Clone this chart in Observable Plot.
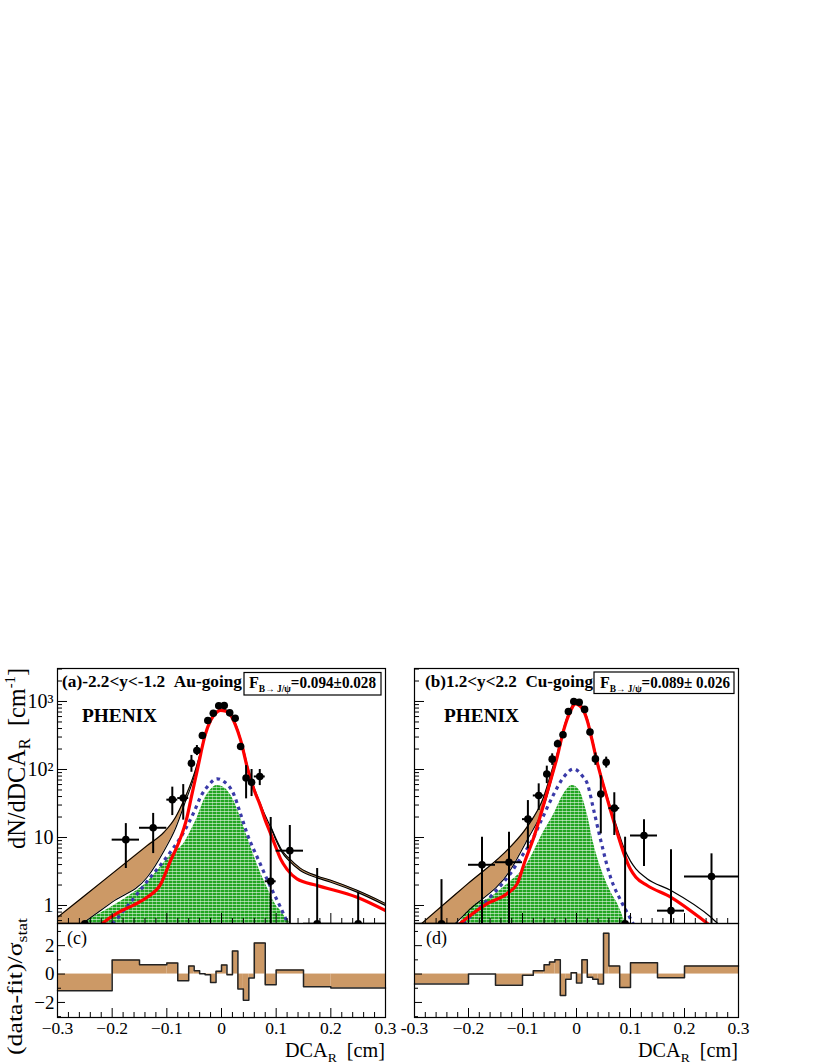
<!DOCTYPE html>
<html><head><meta charset="utf-8">
<script src="https://cdn.jsdelivr.net/npm/d3@7"></script>
<script src="https://cdn.jsdelivr.net/npm/@observablehq/plot@0.6"></script>
<style>
body{margin:0;background:#fff;}
#root{position:relative;width:822px;height:1064px;overflow:hidden;background:#fff;}
.pn{position:absolute;}
</style></head><body><div id="root"></div>
<script>
// ---------------- data ----------------
const binEdges = [-0.3,-0.2,-0.15,-0.1,-0.08,-0.06,-0.05,-0.04,-0.03,-0.02,-0.01,0,0.01,0.02,0.03,0.04,0.05,0.06,0.08,0.1,0.15,0.2,0.3];

// panel (a) data points
const yA    = [0.54, 9.3, 13.9, 36, 38, 123, 190, 316, 525, 673, 866, 870, 680, 565, 218, 75, 65, 79, 2.27, 6.4, 0.54, 0.54];
const yA_lo = [0.54, 3.5, 5.8, 21, 18, 91, 160, 290, 495, 640, 830, 835, 645, 535, 195, 37, 40, 58, 0.3, 0.3, 0.3, 0.3];
const yA_hi = [0.54, 16, 22.6, 55, 60, 161, 225, 345, 560, 705, 900, 905, 715, 600, 240, 114, 100, 100, 19.7, 15, 3.5, 1.57];
// panel (b) data points
const yB    = [0.54, 3.97, 4.33, 18.6, 41.5, 86, 142, 239, 324, 713, 1000, 975, 765, 355, 143, 43.7, 128, 27, 0.54, 10.7, 0.84, 2.67];
const yB_lo = [0.3, 0.3, 0.3, 6.8, 25, 62, 115, 210, 295, 680, 960, 940, 730, 325, 115, 11.3, 105, 10.7, 0.3, 3.74, 0.3, 0.3];
const yB_hi = [2.4, 10.1, 11.9, 34.9, 61.5, 112, 170, 270, 355, 745, 1040, 1010, 800, 385, 175, 81, 152, 45.5, 10.1, 18.2, 6.6, 5.75];

// residuals (data-fit)/sigma per bin
const residA = [-1.18, 0.99, 0.66, 0.78, -0.47, 0.56, 0.24, 0.02, -0.05, -0.59, 0.19, 0.64, -0.05, 1.62, -1.06, -1.84, -0.28, 2.19, -0.75, 0.28, -0.89, -0.99];
const residB = [-0.70, 0.0, -0.79, -0.09, 0.23, 0.65, 0.84, 1.0, -1.51, -0.37, 0.09, -0.63, 1.0, -0.23, -0.37, -0.70, 2.88, 0.56, -0.95, 0.79, -0.26, 0.56];

// panel (a) curves
const greenA_x = [-0.255,-0.22,-0.19,-0.16,-0.136,-0.115,-0.1,-0.085,-0.069,-0.055,-0.044,-0.03,-0.02,-0.008,0.005,0.02,0.03,0.041,0.055,0.065,0.075,0.085,0.1,0.108,0.12,0.127];
const greenA_y = [0.54,0.78,1.08,1.55,2.2,3.4,4.8,6.2,8.1,13,19.9,38,50,58,54,38,25,14,6.8,4.1,2.6,1.75,1.0,0.84,0.62,0.54];
const blueA_x = [-0.2,-0.194,-0.179,-0.154,-0.13,-0.105,-0.087,-0.069,-0.05,-0.038,-0.025,-0.008,0.005,0.022,0.035,0.047,0.068,0.09,0.108,0.121];
const blueA_y = [0.54,0.6,0.84,1.49,2.6,4.6,7.2,12,24,40,57,73,66,44,22,11.3,4.6,1.86,0.94,0.55];
const bandA_x  = [-0.3,-0.255,-0.2,-0.136,-0.105,-0.084,-0.069,-0.05,-0.04];
const bandA_lo = [0.3,0.54,1.12,2.6,6.4,13.7,29,78,150];
const bandA_hi = [0.67,1.30,2.94,7.6,12,19.9,35,86,160];
const bandA2_x  = [0.09,0.1,0.11,0.123,0.144,0.175,0.2,0.248,0.3];
const bandA2_lo = [14.1,9.0,6.2,4.6,3.27,2.55,2.2,1.57,1.0];
const bandA2_hi = [14.6,9.5,6.6,5.0,3.55,2.72,2.35,1.67,1.07];
const totalA_x = [-0.04,-0.03,-0.02,-0.01,0,0.01,0.02,0.03,0.04,0.05,0.06,0.07,0.08,0.09,0.1,0.11,0.123,0.144,0.175,0.2,0.248,0.3];
const totalA_y = [160,330,550,715,775,745,600,380,200,95,53,33,21,14.1,9.0,6.2,4.6,3.27,2.55,2.2,1.57,1.0];
const redA_x = [-0.225,-0.218,-0.19,-0.16,-0.136,-0.111,-0.093,-0.078,-0.063,-0.055,-0.044,-0.038,-0.03,-0.02,-0.01,-0.002,0.008,0.016,0.025,0.035,0.047,0.06,0.07,0.08,0.09,0.1,0.108,0.12,0.138,0.175,0.248,0.3];
const redA_y = [0.47,0.54,0.78,1.02,1.32,2.08,4.6,8.5,20,40,100,170,320,525,680,738,720,640,460,270,108,49,31,18,11.3,7,4.85,3.4,2.46,1.97,1.32,0.84];

// panel (b) curves
const greenB_x = [-0.216,-0.2,-0.16,-0.13,-0.092,-0.061,-0.042,-0.024,-0.008,0.005,0.02,0.032,0.05,0.065,0.076,0.091];
const greenB_y = [0.54,0.9,1.3,2.0,4.0,12,22,43,58,50,22,8,2.8,1.5,1.06,0.54];
const blueB_x = [-0.21,-0.185,-0.154,-0.123,-0.1,-0.086,-0.065,-0.045,-0.024,-0.005,0.011,0.02,0.032,0.045,0.063,0.082,0.1,0.105];
const blueB_y = [0.54,0.84,1.49,2.9,5.5,8,18,39,77,102,80,62,25,9,2.6,1.18,0.64,0.54];
const bandB_x  = [-0.3,-0.287,-0.225,-0.2,-0.123,-0.092,-0.061,-0.042,-0.035];
const bandB_lo = [0.14,0.18,0.54,0.84,3.27,9.0,27.9,96,165];
const bandB_hi = [0.44,0.54,1.44,2.13,7.2,14.1,39,121,180];
const totalB_x = [-0.035,-0.024,-0.012,-0.002,0.01,0.02,0.029,0.038,0.046,0.055,0.063,0.075,0.088,0.1,0.11,0.13,0.175,0.249,0.262,0.27];
const totalB_y = [180,400,760,1000,860,560,290,140,80,45,28,14,7.0,4.5,3.46,2.5,1.66,0.67,0.54,0.48];
const redB_x = [-0.225,-0.216,-0.166,-0.129,-0.11,-0.095,-0.079,-0.064,-0.048,-0.036,-0.024,-0.012,-0.002,0.01,0.02,0.029,0.038,0.046,0.055,0.063,0.075,0.088,0.1,0.11,0.131,0.175,0.243,0.25];
const redB_y = [0.47,0.54,1.06,1.49,2.08,4.6,10.1,25,69,150,373,700,925,800,520,267,130,75,42,25,12,5.75,3.4,2.6,1.97,1.32,0.54,0.49];

// axis ticks
const xMajor = [-0.3,-0.2,-0.1,0,0.1,0.2,0.3];
const yLogMajor = [1,10,100,1000];
const yResMajor = [-2,0,2];
const yResMinor = [-3,-1,1,3];

// ---------------- helpers ----------------
const SERIF = "'Liberation Serif','Times New Roman',Times,serif";
const TAN = "#cc9966", BLUE = "#3a3aa8", RED = "#ff0000";
const LOGDOM = [0.5436, 3055], RESDOM = [-3.06, 3.56];
const NB = "\u00a0";
const xMinor = d3.range(-0.3, 0.3001, 0.02).map(v => +v.toFixed(2)).filter(v => !xMajor.some(m => Math.abs(m - v) < 1e-6));
const yLogMinor = [];
[0.1,1,10,100,1000].forEach(d => [2,3,4,5,6,7,8,9].forEach(k => { const v = d*k; if (v > LOGDOM[0] && v < LOGDOM[1]) yLogMinor.push(v); }));

const binLo = binEdges.slice(0,-1), binHi = binEdges.slice(1);
const zip = (xs, ys) => xs.map((x,i) => ({x, y: ys[i]}));
const zipBand = (xs, lo, hi) => xs.map((x,i) => ({x, lo: lo[i], hi: hi[i]}));
const points = (y, lo, hi) => y.map((v,i) => ({x: (binLo[i]+binHi[i])/2, xl: binLo[i], xh: binHi[i], y: v, lo: lo[i], hi: hi[i]}));
const resBins = r => r.map((v,i) => ({x1: binLo[i], x2: binHi[i], v}));
const resStep = r => r.flatMap((v,i) => [{x: binLo[i], y: v}, {x: binHi[i], y: v}]);
const fmtX = d => d === 0 ? "0" : (d < 0 ? "\u2212" : "") + Math.abs(d).toFixed(1);
const fmtXRight = d => d === -0.3 ? "-0.3" : fmtX(d);
const fmtLog = d => ({1:"1",10:"10",100:"10\u00b2",1000:"10\u00b3"})[d];
const fmtRes = d => d < 0 ? "\u2212" + (-d) : String(d);

const root = document.getElementById("root");
function place(svg, left, top) {
  const div = document.createElement("div");
  div.className = "pn"; div.style.left = left + "px"; div.style.top = top + "px";
  div.appendChild(svg); root.appendChild(div);
}
const baseStyle = {fontFamily: SERIF, fontSize: "19px", background: "transparent", overflow: "visible", color: "black"};

const UPPER_TOP = 668, UPPER_H = 255, LOWER_TOP = 923, LOWER_H = 94;

function upper(cfg) {
  const fw = cfg.fx1 - cfg.fx0;
  const mL = cfg.labels ? 57 : 4, mR = 4, mT = 4, mB = 2;
  const line = (data, o) => Plot.line(data, {x: "x", y: "y", curve: "monotone-x", clip: true, ...o});
  const marks = [
    Plot.areaY(cfg.green, {x: "x", y1: 0.3, y2: "y", fill: `url(#${cfg.pat})`, curve: "monotone-x", clip: true}),
    Plot.areaY(cfg.band, {x: "x", y1: "lo", y2: "hi", fill: TAN, curve: "monotone-x", clip: true}),
    Plot.line(cfg.band, {x: "x", y: "lo", stroke: "black", strokeWidth: 1.1, curve: "monotone-x", clip: true}),
    Plot.line(cfg.band, {x: "x", y: "hi", stroke: "black", strokeWidth: 1.1, curve: "monotone-x", clip: true}),
  ];
  if (cfg.band2) marks.push(
    Plot.areaY(cfg.band2, {x: "x", y1: "lo", y2: "hi", fill: TAN, curve: "monotone-x", clip: true}),
    Plot.line(cfg.band2, {x: "x", y: "hi", stroke: "black", strokeWidth: 1.1, curve: "monotone-x", clip: true})
  );
  marks.push(
    line(cfg.blue, {stroke: BLUE, strokeWidth: 3.2, strokeDasharray: "3.5,4", strokeLinecap: "butt"}),
    line(cfg.total, {stroke: "black", strokeWidth: 1.2}),
    line(cfg.red, {stroke: RED, strokeWidth: 3.2}),
    Plot.ruleX(cfg.pts, {x: "x", y1: "lo", y2: "hi", stroke: "black", strokeWidth: 2, clip: true}),
    Plot.ruleY(cfg.pts, {y: "y", x1: "xl", x2: "xh", stroke: "black", strokeWidth: 2, clip: true}),
    Plot.dot(cfg.pts, {x: "x", y: "y", r: 3.8, fill: "black", stroke: "none", clip: true}),
    Plot.tickY(yLogMajor, {y: d => d, insetRight: fw - 10, stroke: "black", strokeWidth: 1}),
    Plot.tickY(yLogMinor, {y: d => d, insetRight: fw - 5, stroke: "black", strokeWidth: 1}),
    Plot.tickX(xMajor, {x: d => d, insetTop: UPPER_H - 10, stroke: "black", strokeWidth: 1}),
    Plot.tickX(xMinor, {x: d => d, insetTop: UPPER_H - 5, stroke: "black", strokeWidth: 1}),
    Plot.frame({stroke: "black", strokeWidth: 1.2})
  );
  if (cfg.labels) marks.push(Plot.axisY({ticks: yLogMajor, tickFormat: fmtLog, tickSize: 0, tickPadding: 4, fontSize: 20, label: null}));
  const svg = Plot.plot({
    width: mL + fw + mR, height: mT + UPPER_H + mB,
    marginLeft: mL, marginRight: mR, marginTop: mT, marginBottom: mB,
    x: {domain: [-0.3, 0.3], axis: null},
    y: {type: "log", domain: LOGDOM, ...(cfg.labels ? {} : {axis: null})},
    style: baseStyle,
    marks
  });
  svg.insertAdjacentHTML("afterbegin",
    `<defs><pattern id="${cfg.pat}" width="4" height="3" patternUnits="userSpaceOnUse">
      <rect width="4" height="3" fill="#22a522"/>
      <rect x="0" y="0" width="4" height="1" fill="#ffffff" fill-opacity="0.55"/>
      <rect x="0" y="0" width="1" height="3" fill="#ffffff" fill-opacity="0.35"/>
    </pattern></defs>`);
  place(svg, cfg.fx0 - mL, UPPER_TOP - mT);
}

function lower(cfg) {
  const fw = cfg.fx1 - cfg.fx0;
  const mL = cfg.labels ? 57 : 20, mR = 18, mT = 2, mB = 30;
  const marks = [
    Plot.rect(resBins(cfg.res), {x1: "x1", x2: "x2", y1: 0, y2: "v", fill: TAN}),
    Plot.line(resStep(cfg.res), {x: "x", y: "y", stroke: "#222", strokeWidth: 1.5, curve: "linear"}),
    Plot.tickY(yResMajor, {y: d => d, insetRight: fw - 8, stroke: "black"}),
    Plot.tickY(yResMinor, {y: d => d, insetRight: fw - 4, stroke: "black"}),
    Plot.tickX(xMajor, {x: d => d, insetTop: LOWER_H - 9, stroke: "black"}),
    Plot.tickX(xMinor, {x: d => d, insetTop: LOWER_H - 5, stroke: "black"}),
    Plot.frame({stroke: "black", strokeWidth: 1.2}),
    Plot.axisX({ticks: xMajor, tickFormat: cfg.labels ? fmtX : fmtXRight, tickSize: 0, tickPadding: 4, fontSize: 17.5, label: null})
  ];
  if (cfg.labels) marks.push(Plot.axisY({ticks: yResMajor, tickFormat: fmtRes, tickSize: 0, tickPadding: 3, fontSize: 19, label: null}));
  const svg = Plot.plot({
    width: mL + fw + mR, height: mT + LOWER_H + mB,
    marginLeft: mL, marginRight: mR, marginTop: mT, marginBottom: mB,
    x: {domain: [-0.3, 0.3]},
    y: {domain: RESDOM, ...(cfg.labels ? {} : {axis: null})},
    style: baseStyle,
    marks
  });
  place(svg, cfg.fx0 - mL, LOWER_TOP - mT);
}

upper({fx0: 57, fx1: 385, labels: true, pat: "gpatA",
  green: zip(greenA_x, greenA_y), blue: zip(blueA_x, blueA_y),
  band: zipBand(bandA_x, bandA_lo, bandA_hi), band2: zipBand(bandA2_x, bandA2_lo, bandA2_hi),
  total: zip(totalA_x, totalA_y), red: zip(redA_x, redA_y), pts: points(yA, yA_lo, yA_hi)});
upper({fx0: 414, fx1: 738, labels: false, pat: "gpatB",
  green: zip(greenB_x, greenB_y), blue: zip(blueB_x, blueB_y),
  band: zipBand(bandB_x, bandB_lo, bandB_hi), band2: null,
  total: zip(totalB_x, totalB_y), red: zip(redB_x, redB_y), pts: points(yB, yB_lo, yB_hi)});
lower({fx0: 57, fx1: 385, labels: true, res: residA});
lower({fx0: 414, fx1: 738, labels: false, res: residB});

// ---------------- text overlay ----------------
const ov = d3.select("#root").append("svg")
  .attr("width", 822).attr("height", 1064)
  .style("position", "absolute").style("left", 0).style("top", 0)
  .style("pointer-events", "none").style("overflow", "visible")
  .attr("font-family", SERIF);

function txt(x, y, parts, o = {}) {
  const t = ov.append("text").attr("x", x).attr("y", y);
  if (o.transform) t.attr("transform", o.transform).attr("x", 0).attr("y", 0);
  if (o.weight) t.attr("font-weight", o.weight);
  if (o.len) t.attr("textLength", o.len).attr("lengthAdjust", "spacingAndGlyphs");
  if (o.anchor) t.attr("text-anchor", o.anchor);
  parts.forEach(p => {
    const s = t.append("tspan").attr("font-size", p.size).text(p.t);
    if (p.dy) s.attr("dy", p.dy);
  });
  return t;
}

// y-axis titles
txt(0, 0, [{t: "dN/dDCA", size: 25}, {t: "R", size: 17, dy: 5}, {t: NB + NB + "[cm", size: 25, dy: -5}, {t: "-1", size: 15, dy: -10}, {t: "]", size: 25, dy: 10}],
  {transform: "translate(25,849) rotate(-90)", len: 181});
txt(0, 0, [{t: "(data-fit)/\u03c3", size: 22}, {t: "stat", size: 15, dy: 5}],
  {transform: "translate(22,1055) rotate(-90)", len: 137});

// x-axis titles
[[285, 385], [638, 738]].forEach(([x0, x1]) =>
  txt(x0, 1057, [{t: "DCA", size: 20}, {t: "R", size: 13.5, dy: 5}, {t: NB + NB + "[cm]", size: 20, dy: -5}], {len: x1 - x0}));

// panel labels
txt(62, 687, [{t: "(a)-2.2<y<-1.2" + NB + NB + "Au-going", size: 17.5}], {weight: "bold", len: 180});
txt(425, 687, [{t: "(b)1.2<y<2.2" + NB + NB + "Cu-going", size: 17.5}], {weight: "bold", len: 168});
txt(82, 722, [{t: "PHENIX", size: 19.5}], {weight: "bold", len: 75});
txt(444, 722, [{t: "PHENIX", size: 19.5}], {weight: "bold", len: 75});
txt(67, 944, [{t: "(c)", size: 18}]);
txt(426, 944, [{t: "(d)", size: 18}]);

// F boxes
[[244, 672.5, 137, 22.5, "=0.094\u00b10.028", 249, 127], [594, 672, 140, 21.5, "=0.089\u00b1" + NB + "0.026", 600, 130]].forEach(([bx, by, bw, bh, val, tx, tl]) => {
  ov.append("rect").attr("x", bx).attr("y", by).attr("width", bw).attr("height", bh)
    .attr("fill", "white").attr("stroke", "black").attr("stroke-width", 1.2);
  txt(tx, 688, [{t: "F", size: 17}, {t: "B\u2192" + NB + "J/\u03c8", size: 10, dy: 4}, {t: val, size: 16, dy: -4}], {weight: "bold", len: tl});
});
</script></body></html>
